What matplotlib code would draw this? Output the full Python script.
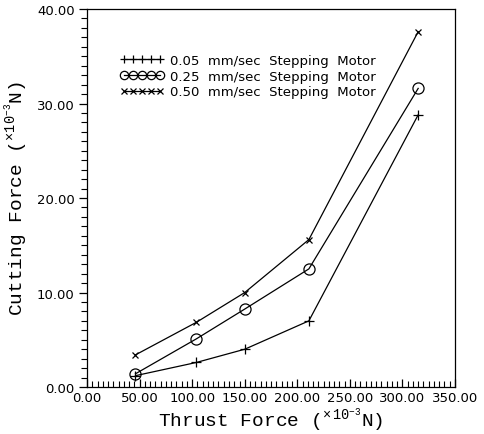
#!/usr/bin/env python3
"""Cutting force vs thrust force for three stepping motor feed rates."""
import matplotlib
matplotlib.use("Agg")
import matplotlib.pyplot as plt
from matplotlib.ticker import MultipleLocator, FormatStrFormatter

DPI = 100

# thrust force (x10^-3 N)
thrust = [46, 104, 150, 211, 315]

# cutting force (x10^-3 N) per feed rate
cut_005 = [1.2, 2.6, 4.0, 7.0, 28.8]
cut_025 = [1.4, 5.1, 8.25, 12.5, 31.6]
cut_050 = [3.4, 6.85, 10.0, 15.6, 37.6]

labels = ["0.05  mm/sec  Stepping  Motor",
          "0.25  mm/sec  Stepping  Motor",
          "0.50  mm/sec  Stepping  Motor"]

plt.rcParams["font.family"] = ["DejaVu Sans"]

fig = plt.figure(figsize=(4.84, 4.35), dpi=DPI)
ax = fig.add_axes([0.180, 0.108, 0.760, 0.869])

ax.plot(thrust, cut_005, color="k", lw=0.9, marker="+", ms=7, mew=0.9, label=labels[0])
ax.plot(thrust, cut_025, color="k", lw=0.9, marker="o", ms=8, mew=0.9,
        mfc="none", label=labels[1])
ax.plot(thrust, cut_050, color="k", lw=0.9, marker="x", ms=5, mew=0.9, label=labels[2])

ax.set_xlim(0, 350)
ax.set_ylim(0, 40)
ax.xaxis.set_major_locator(MultipleLocator(50))
ax.xaxis.set_minor_locator(MultipleLocator(5))
ax.yaxis.set_major_locator(MultipleLocator(10))
ax.yaxis.set_minor_locator(MultipleLocator(1))
ax.xaxis.set_major_formatter(FormatStrFormatter("%.2f"))
ax.yaxis.set_major_formatter(FormatStrFormatter("%.2f"))

ax.tick_params(axis="x", which="both", direction="in", top=False, labelsize=9.5, pad=3)
ax.tick_params(axis="x", which="major", length=6, width=0.9)
ax.tick_params(axis="x", which="minor", length=4, width=0.8)
ax.tick_params(axis="y", which="both", direction="out", right=False, labelsize=9.5, pad=3)
ax.tick_params(axis="y", which="major", length=6, width=0.9)
ax.tick_params(axis="y", which="minor", length=4, width=0.8)
for s in ax.spines.values():
    s.set_linewidth(0.9)

lab_font = dict(family=["Liberation Mono", "DejaVu Sans Mono"], size=14)
ax.set_xlabel(r"Thrust Force ($\mathregular{^{\times\,10^{-3}}}$N)", labelpad=1, **lab_font)
ax.set_ylabel(r"Cutting Force ($\mathregular{^{\times10^{-3}}}$N)", labelpad=4, **lab_font)

ax.legend(loc="upper left", bbox_to_anchor=(0.075, 0.895), frameon=False,
          numpoints=5, markerscale=0.75, handlelength=3.3, handletextpad=0.5,
          labelspacing=0.2, borderaxespad=0, fontsize=9.5)

fig.savefig("out.png", dpi=DPI)
